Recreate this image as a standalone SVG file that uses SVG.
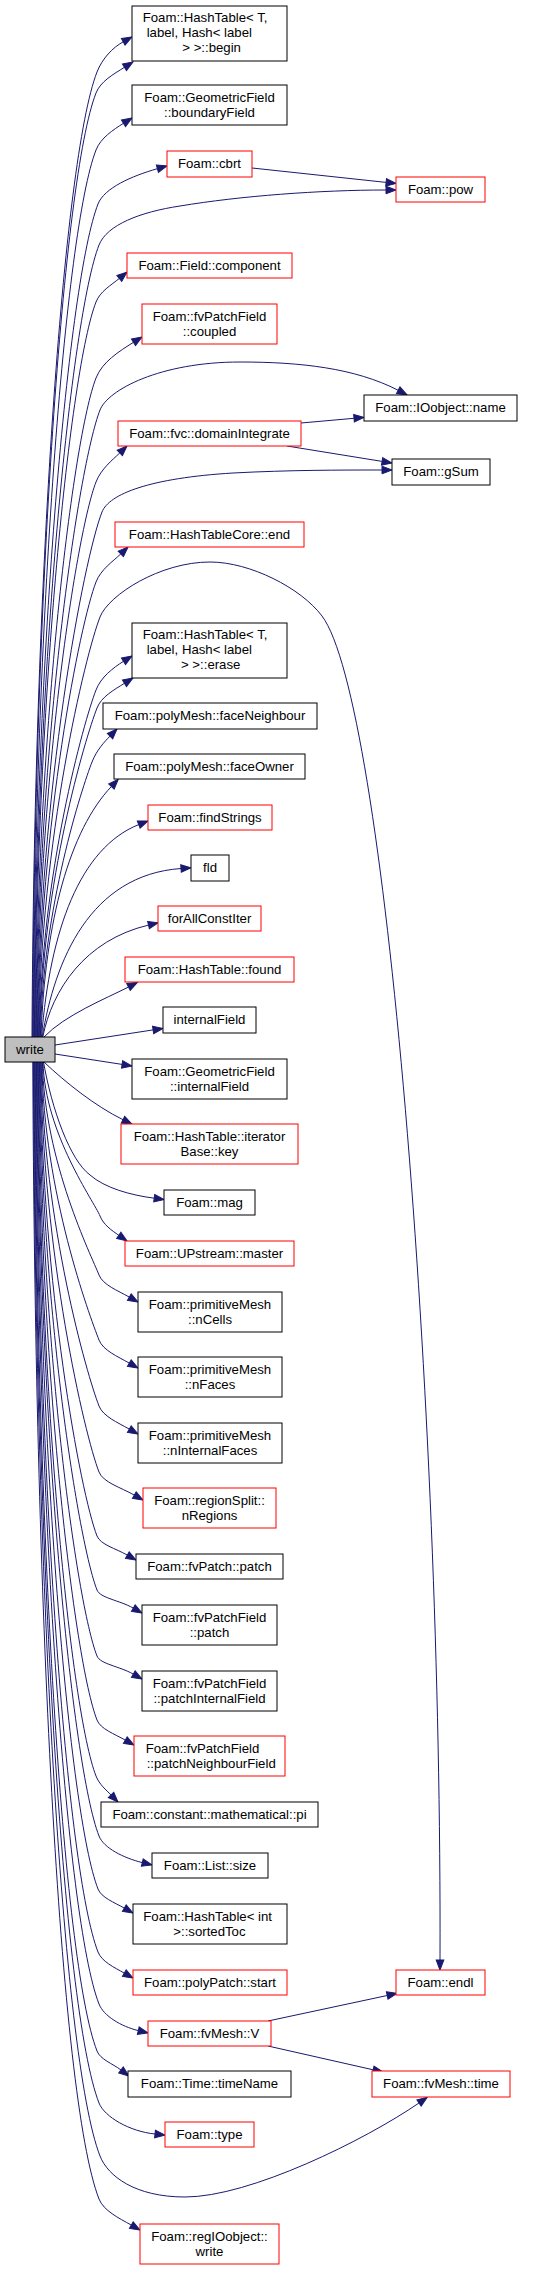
<svg xmlns="http://www.w3.org/2000/svg" width="535" height="2270" viewBox="0 0 535 2270">
<style>
.n rect{fill:#fff;stroke:#000;stroke-width:1}
.n.r rect{stroke:#f00}
.n.g rect{fill:#bfbfbf}
text{font-family:"Liberation Sans",Arial,Helvetica,sans-serif;font-size:13.2px;fill:#000}
.m{text-anchor:middle}
.e path{fill:none;stroke:#191970;stroke-width:1;marker-end:url(#ah)}
</style>
<defs>
<marker id="ah" viewBox="0 -4.5 11 9" refX="0" refY="0" markerWidth="11" markerHeight="9" orient="auto" markerUnits="userSpaceOnUse" overflow="visible">
<path d="M0,-3.8 L10,0 L0,3.8 z" fill="#191970" stroke="#191970" stroke-width="1"/>
</marker>
</defs>
<rect x="0" y="0" width="535" height="2270" fill="#fff"/>
<g id="edges" class="e">
<path d="M32,1037 C34,584 63.2,159 97,72 C102.3,58.4 112.8,47.5 123.2,41.8"/>
<path d="M32.6,1037 C34.6,593 63,178 96,93 C100.5,81.4 113.6,74.1 124.5,67.3"/>
<path d="M33.2,1037 C35.2,620 65,230 96,150 C100.7,138 113,129.9 123.5,123.3"/>
<path d="M33.8,1037 C35.8,645.5 68.8,279 98,204 C104.2,188.1 131.8,175.9 157.4,168.7"/>
<path d="M34.4,1037 C36.4,664.8 71.3,316.3 99,245 C106.8,225 140,212 180,206 C240,196 320,190 386,190"/>
<path d="M35,1037 C37,691.5 70.3,368 96,302 C100.1,291.4 111.2,285.1 119.3,278.4"/>
<path d="M35.6,1037 C37.6,727.3 73,437.3 96,378 C102.2,362 119.1,351.3 133.5,342.3"/>
<path d="M36.2,1037 C38.2,742.3 78.1,466.4 100,410 C107.8,390 160,362 240,362 C300,362 355,368 398.2,390.3"/>
<path d="M36.8,1037 C38.8,776.2 76.6,532 96,482 C101.1,468.9 112.1,460.3 119.8,452.9"/>
<path d="M37.4,1037 C39.4,790.3 83.6,559.3 102,512 C109,494 150,478 233,473 C290,470 340,470 382,470"/>
<path d="M38,1037 C40,823.2 80.1,623 96,582 C100.9,569.4 112.7,561.6 120.8,553.9"/>
<path d="M38.6,1037 C40.6,839.6 85.3,654.8 100,617 C108.6,595 160,562 210,562 C250,562 301,588 322,616 C385,700 442,1400 440,1960"/>
<path d="M39.2,1037 C41.2,873.9 83.9,721.2 96,690 C101,677.1 113,667.9 123.5,661.3"/>
<path d="M39.8,1037 C41.8,882.4 85.5,737.6 97,708 C101.3,696.9 113.6,690.1 124.5,683.3"/>
<path d="M40.4,1037 C42.4,907.8 82.4,786.75 92,762 C96.6,750.3 104.3,741.9 110,736.1"/>
<path d="M41,1037 C45,920 70,830 111.4,786.5"/>
<path d="M41.6,1037 C50,930 80,848 138.7,824.6"/>
<path d="M42.2,1037 C55,960 90,875 181,868.5"/>
<path d="M42.8,1037 C52,990 85,940 148.5,925.1"/>
<path d="M44,1037 C65,1015 105,999 128.5,987"/>
<path d="M55,1045 L153.1,1029.9"/>
<path d="M55,1054 L122.1,1064.4"/>
<path d="M44,1062 C65,1082 95,1106 123,1119.7"/>
<path d="M43.5,1062 C52,1110 70,1160 90,1175 C105,1188 130,1195 154.2,1198.2"/>
<path d="M43,1062 C45,1134.4 94.6,1202.1 100,1216 C103.4,1224.7 111.8,1230.5 118.8,1235.3"/>
<path d="M42.4,1062 C44.4,1162.1 91.5,1255.8 99,1275 C102.9,1284.9 117.5,1290.4 129.3,1297.1"/>
<path d="M41.8,1062 C43.8,1192.7 89.3,1315 99,1340 C103.1,1350.4 117.5,1356.4 129.3,1363.1"/>
<path d="M41.2,1062 C43.2,1223.7 87,1375 99,1406 C103.1,1416.4 117.5,1422.4 129.3,1429.1"/>
<path d="M40.6,1062 C42.6,1254.7 84.65,1435.1 99,1472 C103.1,1482.4 120.5,1487.3 134.3,1495.1"/>
<path d="M40,1062 C42,1284.8 80.4,1493.3 97,1536 C100.4,1544.6 115.5,1548.4 127.3,1555.1"/>
<path d="M39.4,1062 C41.4,1310.2 78.5,1542.5 97,1590 C100.2,1598.1 119.1,1600.1 133.3,1608.1"/>
<path d="M38.8,1062 C40.8,1341.2 76.2,1602.5 97,1656 C100.2,1664.1 119.1,1666.1 133.3,1674.1"/>
<path d="M38.2,1062 C40.2,1371.3 74,1660.8 97,1720 C100.5,1729 114.3,1733.9 125.3,1740.1"/>
<path d="M37.6,1062 C39.6,1397.6 71,1711.7 96,1776 C99.3,1784.5 106.3,1790.1 111,1794.9"/>
<path d="M37,1062 C39,1425.8 71.9,1766.3 99,1836 C103.7,1848 123.4,1857.9 142.3,1862.6"/>
<path d="M36.4,1062 C38.4,1450.7 69.1,1814.6 98,1889 C101.4,1897.6 114,1902.3 124.3,1908.1"/>
<path d="M35.8,1062 C37.8,1480.3 66.8,1871.9 98,1952 C101.7,1961.5 114,1967.3 124.3,1973.1"/>
<path d="M35.2,1062 C37.2,1504.7 66,1919.2 99,2004 C103.7,2016 121.1,2026.4 138.3,2030.6"/>
<path d="M34.6,1062 C36.6,1526.8 62.4,1962 97,2051 C100.4,2059.6 112.4,2063.5 121,2070"/>
<path d="M34,1062 C36,1551.3 62.6,2009.3 99,2103 C104.5,2117 130,2131.5 155,2134"/>
<path d="M33.4,1062 C35.4,1576.2 61.7,2057.5 100,2156 C107.8,2176 135,2197 185,2197 C250,2197 365,2140 419,2103"/>
<path d="M32.8,1062 C34.8,1596.4 59.2,2096.7 99,2199 C103.6,2210.7 118.7,2218 131.3,2225.1"/>
<path d="M252,168 L386.1,182.4"/>
<path d="M301,423 L354,418.3"/>
<path d="M287,446 L382.1,461.4"/>
<path d="M268,2021 L387.2,1995.5"/>
<path d="M268,2046 L373.2,2069.8"/>
</g>
<g id="n_begin" class="n"><rect x="132" y="6" width="155" height="55"/><text x="142.7" y="21.8">Foam::HashTable&lt; T,</text><text x="146.7" y="36.8">label, Hash&lt; label</text><text x="182.3" y="51.8">&gt; &gt;::begin</text></g>
<g id="n_boundaryField" class="n"><rect x="132" y="85" width="155" height="40"/><text class="m" x="209.5" y="101.7">Foam::GeometricField</text><text class="m" x="209.5" y="116.7">::boundaryField</text></g>
<g id="n_cbrt" class="n r"><rect x="167" y="151" width="85" height="26"/><text class="m" x="209.5" y="168.3">Foam::cbrt</text></g>
<g id="n_pow" class="n r"><rect x="396" y="177" width="89" height="25"/><text class="m" x="440.5" y="193.8">Foam::pow</text></g>
<g id="n_component" class="n r"><rect x="127" y="253" width="165" height="25"/><text class="m" x="209.5" y="269.8">Foam::Field::component</text></g>
<g id="n_coupled" class="n r"><rect x="142" y="304" width="135" height="40"/><text class="m" x="209.5" y="320.7">Foam::fvPatchField</text><text class="m" x="209.5" y="335.7">::coupled</text></g>
<g id="n_name" class="n"><rect x="364" y="395" width="153" height="26"/><text class="m" x="440.5" y="412.3">Foam::IOobject::name</text></g>
<g id="n_domainIntegrate" class="n r"><rect x="118" y="421" width="183" height="25"/><text class="m" x="209.5" y="437.8">Foam::fvc::domainIntegrate</text></g>
<g id="n_gSum" class="n"><rect x="392" y="459" width="98" height="26"/><text class="m" x="441" y="476.3">Foam::gSum</text></g>
<g id="n_end" class="n r"><rect x="115" y="522" width="189" height="25"/><text class="m" x="209.5" y="538.8">Foam::HashTableCore::end</text></g>
<g id="n_erase" class="n"><rect x="132" y="623" width="155" height="55"/><text x="142.7" y="638.8">Foam::HashTable&lt; T,</text><text x="146.7" y="653.8">label, Hash&lt; label</text><text x="181" y="668.8">&gt; &gt;::erase</text></g>
<g id="n_faceNeighbour" class="n"><rect x="103" y="703" width="214" height="26"/><text class="m" x="210" y="720.3">Foam::polyMesh::faceNeighbour</text></g>
<g id="n_faceOwner" class="n"><rect x="114" y="754" width="191" height="25"/><text class="m" x="209.5" y="770.8">Foam::polyMesh::faceOwner</text></g>
<g id="n_findStrings" class="n r"><rect x="148" y="805" width="124" height="25"/><text class="m" x="210" y="821.8">Foam::findStrings</text></g>
<g id="n_fld" class="n"><rect x="191" y="855" width="38" height="26"/><text class="m" x="210" y="872.3">fld</text></g>
<g id="n_forAllConstIter" class="n r"><rect x="158" y="906" width="103" height="25"/><text class="m" x="209.5" y="922.8">forAllConstIter</text></g>
<g id="n_found" class="n r"><rect x="125" y="957" width="169" height="25"/><text class="m" x="209.5" y="973.8">Foam::HashTable::found</text></g>
<g id="n_internalField" class="n"><rect x="163" y="1007" width="93" height="26"/><text class="m" x="209.5" y="1024.3">internalField</text></g>
<g id="n_write" class="n g"><rect x="5" y="1037" width="50" height="25"/><text class="m" x="30" y="1053.8">write</text></g>
<g id="n_gfInternalField" class="n"><rect x="132" y="1059" width="155" height="40"/><text class="m" x="209.5" y="1075.7">Foam::GeometricField</text><text class="m" x="209.5" y="1090.7">::internalField</text></g>
<g id="n_key" class="n r"><rect x="121" y="1124" width="177" height="40"/><text class="m" x="209.5" y="1140.7">Foam::HashTable::iterator</text><text class="m" x="209.5" y="1155.7">Base::key</text></g>
<g id="n_mag" class="n"><rect x="164" y="1190" width="91" height="25"/><text class="m" x="209.5" y="1206.8">Foam::mag</text></g>
<g id="n_master" class="n r"><rect x="125" y="1241" width="169" height="25"/><text class="m" x="209.5" y="1257.8">Foam::UPstream::master</text></g>
<g id="n_nCells" class="n"><rect x="138" y="1292" width="144" height="40"/><text class="m" x="210" y="1308.7">Foam::primitiveMesh</text><text class="m" x="210" y="1323.7">::nCells</text></g>
<g id="n_nFaces" class="n"><rect x="138" y="1357" width="144" height="40"/><text class="m" x="210" y="1373.7">Foam::primitiveMesh</text><text class="m" x="210" y="1388.7">::nFaces</text></g>
<g id="n_nInternalFaces" class="n"><rect x="138" y="1423" width="144" height="40"/><text class="m" x="210" y="1439.7">Foam::primitiveMesh</text><text class="m" x="210" y="1454.7">::nInternalFaces</text></g>
<g id="n_nRegions" class="n r"><rect x="143" y="1488" width="133" height="40"/><text class="m" x="209.5" y="1504.7">Foam::regionSplit::</text><text class="m" x="209.5" y="1519.7">nRegions</text></g>
<g id="n_fvPatchPatch" class="n"><rect x="136" y="1554" width="147" height="25"/><text class="m" x="209.5" y="1570.8">Foam::fvPatch::patch</text></g>
<g id="n_fvPatchFieldPatch" class="n"><rect x="142" y="1605" width="135" height="40"/><text class="m" x="209.5" y="1621.7">Foam::fvPatchField</text><text class="m" x="209.5" y="1636.7">::patch</text></g>
<g id="n_patchInternalField" class="n"><rect x="142" y="1671" width="135" height="40"/><text class="m" x="209.5" y="1687.7">Foam::fvPatchField</text><text class="m" x="209.5" y="1702.7">::patchInternalField</text></g>
<g id="n_patchNeighbourField" class="n r"><rect x="134" y="1736" width="151" height="40"/><text x="145.7" y="1752.7">Foam::fvPatchField</text><text x="146.7" y="1767.7">::patchNeighbourField</text></g>
<g id="n_pi" class="n"><rect x="101" y="1802" width="217" height="25"/><text class="m" x="209.5" y="1818.8">Foam::constant::mathematical::pi</text></g>
<g id="n_size" class="n"><rect x="152" y="1853" width="116" height="25"/><text class="m" x="210" y="1869.8">Foam::List::size</text></g>
<g id="n_sortedToc" class="n"><rect x="133" y="1904" width="154" height="40"/><text x="143.3" y="1920.7">Foam::HashTable&lt; int</text><text x="173.3" y="1935.7">&gt;::sortedToc</text></g>
<g id="n_start" class="n r"><rect x="133" y="1970" width="154" height="25"/><text class="m" x="210" y="1986.8">Foam::polyPatch::start</text></g>
<g id="n_endl" class="n r"><rect x="396" y="1970" width="89" height="25"/><text class="m" x="440.5" y="1986.8">Foam::endl</text></g>
<g id="n_V" class="n r"><rect x="148" y="2021" width="123" height="25"/><text class="m" x="209.5" y="2037.8">Foam::fvMesh::V</text></g>
<g id="n_timeName" class="n"><rect x="128" y="2071" width="163" height="26"/><text class="m" x="209.5" y="2088.3">Foam::Time::timeName</text></g>
<g id="n_time" class="n r"><rect x="372" y="2071" width="138" height="26"/><text class="m" x="441" y="2088.3">Foam::fvMesh::time</text></g>
<g id="n_type" class="n r"><rect x="165" y="2122" width="89" height="25"/><text class="m" x="209.5" y="2138.8">Foam::type</text></g>
<g id="n_regIOobjectWrite" class="n r"><rect x="140" y="2224" width="139" height="40"/><text class="m" x="209.5" y="2240.7">Foam::regIOobject::</text><text class="m" x="209.5" y="2255.7">write</text></g>
</svg>
